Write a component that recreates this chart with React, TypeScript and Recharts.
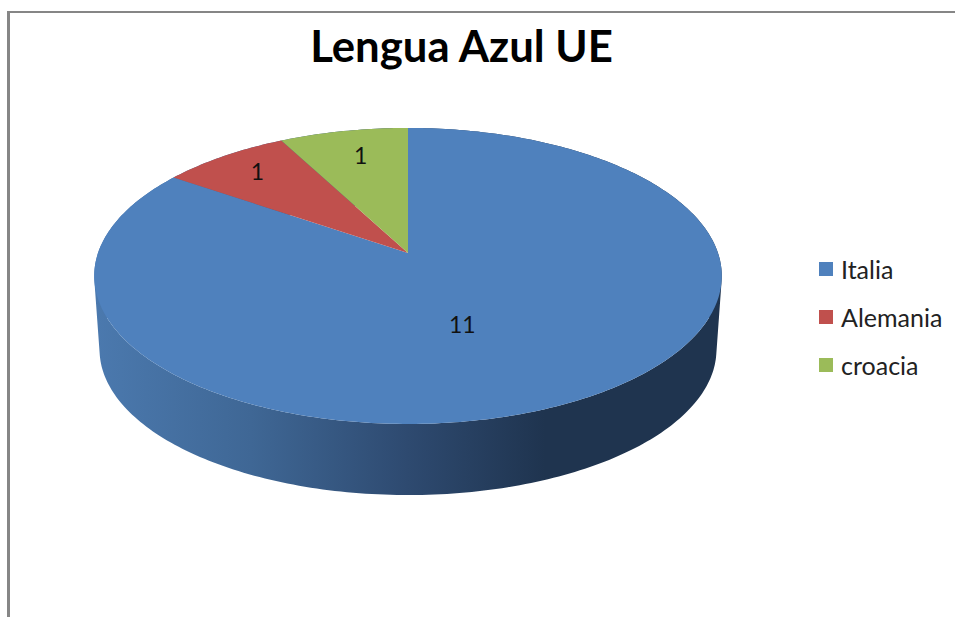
import React from "react";
import { PieChart, Pie, Legend } from "recharts";

const categories = ["Italia", "Alemania", "croacia"];
const values = [11, 1, 1];
const colors = ["#4f81bd", "#c0504d", "#9bbb59"];
const chartTitle = "Lengua Azul UE";

const tableData = categories.map((name, i) => ({ name, value: values[i], fill: colors[i] }));

const FONT = "Lato, Carlito, 'Open Sans', sans-serif";
const PIE_CX = 408;
const PIE_CY = 253;
const PIE_R = 310;
const V_SCALE = 0.466;
const PERSPECTIVE = 0.155;
const DEPTH = 74;
const BOTTOM_SCALE = 0.983;

// Tilted-disc projection of a point given in polar form (library angles, degrees).
function project(cx: number, cy: number, r: number, deg: number, f = 1, s = 1, dy = 0) {
  const a = (deg * Math.PI) / 180;
  const u = f * Math.cos(a);
  const v = f * Math.sin(a);
  const w = 1 + PERSPECTIVE * v;
  return { x: cx + (s * r * u) / w, y: cy + dy - (s * r * V_SCALE * v) / w };
}

function angleSteps(start: number, end: number) {
  const n = Math.max(2, Math.ceil(Math.abs(end - start)));
  return Array.from({ length: n + 1 }, (_, i) => start + ((end - start) * i) / n);
}

const TopSector = (p: any) => {
  const pts = angleSteps(p.startAngle, p.endAngle).map((d) => project(p.cx, p.cy, p.outerRadius, d));
  const d = `M${p.cx},${p.cy} ` + pts.map((q) => `L${q.x.toFixed(2)},${q.y.toFixed(2)}`).join(" ") + " Z";
  return <path d={d} fill={p.fill} stroke="none" />;
};

const SideSector = (p: any) => {
  const ds = angleSteps(p.startAngle, p.endAngle);
  let d = "";
  for (let i = 0; i < ds.length - 1; i++) {
    const a = project(p.cx, p.cy, p.outerRadius, ds[i]);
    const b = project(p.cx, p.cy, p.outerRadius, ds[i + 1]);
    const c = project(p.cx, p.cy, p.outerRadius, ds[i + 1], 1, BOTTOM_SCALE, DEPTH);
    const e = project(p.cx, p.cy, p.outerRadius, ds[i], 1, BOTTOM_SCALE, DEPTH);
    const cross = (b.x - a.x) * (c.y - a.y) - (b.y - a.y) * (c.x - a.x);
    const quad = cross >= 0 ? [a, b, c, e] : [e, c, b, a];
    d += "M" + quad.map((q) => `${q.x.toFixed(2)},${q.y.toFixed(2)}`).join("L") + "Z ";
  }
  return <path d={d} fill="url(#sideShade)" stroke="none" />;
};

const LABEL_FRACTION = [0.5, 0.8, 0.74];
const LABEL_SHIFT = [
  [-23, 2],
  [0, -3],
  [2, -5],
];

const renderLabel = (p: any) => {
  const q = project(p.cx, p.cy, PIE_R, p.midAngle, LABEL_FRACTION[p.index]);
  return (
    <text
      x={q.x + LABEL_SHIFT[p.index][0]}
      y={q.y + LABEL_SHIFT[p.index][1]}
      textAnchor="middle"
      dominantBaseline="central"
      fontFamily={FONT}
      fontSize={23}
      fill="#111"
    >
      {p.value}
    </text>
  );
};

const LegendContent = (props: any) => {
  const items = categories
    .map((c) => (props.payload || []).find((e: any) => e.value === c))
    .filter(Boolean);
  return (
    <div style={{ fontFamily: FONT, fontSize: 25, color: "#222" }}>
      {items.map((e: any) => (
        <div key={e.value} style={{ display: "flex", alignItems: "center", height: 48 }}>
          <span style={{ width: 14, height: 14, background: e.color, marginRight: 8, flex: "none" }} />
          <span>{e.value}</span>
        </div>
      ))}
    </div>
  );
};

export default function App() {
  return (
    <div style={{ position: "absolute", left: 0, top: 0, width: 955, height: 617, background: "#fff", overflow: "hidden" }}>
      <div style={{ position: "absolute", left: 7, top: 11, width: 948, height: 1.5, background: "#868686" }} />
      <div style={{ position: "absolute", left: 7, top: 11, width: 3, height: 606, background: "#868686" }} />
      <PieChart
        width={955}
        height={617}
        margin={{ top: 0, right: 0, bottom: 0, left: 0 }}
        style={{ position: "absolute", left: 0, top: 0 }}
      >
        <defs>
          <linearGradient id="sideShade" gradientUnits="userSpaceOnUse" x1={95} y1={0} x2={720} y2={0}>
            <stop offset="0" stopColor="#4b79ae" />
            <stop offset="0.25" stopColor="#3f6795" />
            <stop offset="0.5" stopColor="#2e4a70" />
            <stop offset="0.72" stopColor="#1f344f" />
            <stop offset="1" stopColor="#1f344f" />
          </linearGradient>
        </defs>
        <text
          x={461.5}
          y={45}
          textAnchor="middle"
          dominantBaseline="central"
          fontFamily={FONT}
          fontWeight={700}
          fontSize={43.7}
          fill="#000"
        >
          {chartTitle}
        </text>
        <Pie
          data={tableData}
          dataKey="value"
          nameKey="name"
          cx={PIE_CX}
          cy={PIE_CY}
          outerRadius={PIE_R}
          startAngle={90}
          endAngle={-270}
          stroke="none"
          legendType="none"
          isAnimationActive={false}
          shape={SideSector}
        />
        <Pie
          data={tableData}
          dataKey="value"
          nameKey="name"
          cx={PIE_CX}
          cy={PIE_CY}
          outerRadius={PIE_R}
          startAngle={90}
          endAngle={-270}
          stroke="none"
          isAnimationActive={false}
          shape={TopSector}
          label={renderLabel}
          labelLine={false}
        />
        <Legend
          layout="vertical"
          align="right"
          verticalAlign="top"
          content={LegendContent}
          wrapperStyle={{ left: 819, top: 245, width: 136, right: "auto" }}
        />
      </PieChart>
    </div>
  );
}
